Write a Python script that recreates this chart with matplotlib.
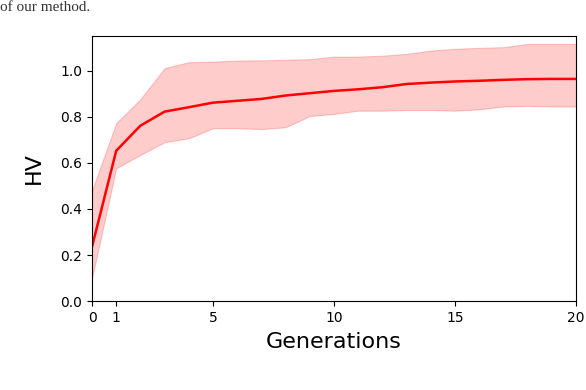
import numpy as np
import matplotlib
matplotlib.use('Agg')
import matplotlib.pyplot as plt

###### dados ######
geracoes = list(range(0, 21))
hv_medio = [0.236, 0.653, 0.762, 0.823, 0.842, 0.862, 0.870, 0.878, 0.893, 0.903,
            0.913, 0.920, 0.929, 0.943, 0.949, 0.954, 0.957, 0.961, 0.964, 0.965, 0.965]
hv_superior = [0.48, 0.773, 0.877, 1.012, 1.038, 1.040, 1.045, 1.046, 1.048, 1.051,
               1.062, 1.062, 1.066, 1.074, 1.088, 1.096, 1.100, 1.103, 1.117, 1.117, 1.117]
hv_inferior = [0.099, 0.577, 0.635, 0.690, 0.707, 0.751, 0.751, 0.747, 0.755, 0.804,
               0.813, 0.827, 0.827, 0.830, 0.830, 0.827, 0.833, 0.845, 0.848, 0.845, 0.845]
ticks_x = [0, 1, 5, 10, 15, 20]
ticks_y = [0.0, 0.2, 0.4, 0.6, 0.8, 1.0]

###### plotar ######
fig = plt.figure(figsize=(5.86, 3.9), dpi=100)
ax = fig.add_axes([0.157, 0.228, 0.826, 0.680])

ax.fill_between(geracoes, hv_inferior, hv_superior, color='red', alpha=0.2, linewidth=0.8)
ax.plot(geracoes, hv_medio, color='red', linewidth=1.8)

ax.set_xlim(0, 20)
ax.set_ylim(0, 1.152)
ax.set_xticks(ticks_x)
ax.set_yticks(ticks_y)
ax.set_yticklabels(['%.1f' % v for v in ticks_y])
ax.tick_params(labelsize=10)
ax.set_xlabel('Generations', fontsize=16, labelpad=5)
ax.set_ylabel('HV', fontsize=16, labelpad=12)

# texto do artigo no topo
fig.text(0.0, 0.998, 'of our method.', fontsize=11, family='Liberation Serif',
         ha='left', va='top', color='#333333')

fig.savefig('out.png', dpi=100)
